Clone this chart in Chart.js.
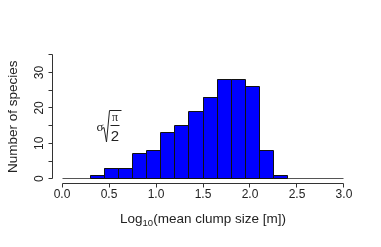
<!DOCTYPE html>
<html><head><meta charset="utf-8">
<script src="https://cdn.jsdelivr.net/npm/chart.js@4"></script>
<style>html,body{margin:0;padding:0;background:#fff}#wrap{width:381px;height:247px}</style>
</head><body><div id="wrap"><canvas id="c" width="381" height="247"></canvas></div>
<script>
const binEdges = [0,0.15,0.3,0.45,0.6,0.75,0.9,1.05,1.2,1.35,1.5,1.65,1.8,1.95,2.1,2.25,2.4,2.55,2.7,2.85,3.0];
const counts   = [0,0,1,3,3,7,8,13,15,19,23,28,28,26,8,1,0,0,0,0];
const xTicks = [0.0,0.5,1.0,1.5,2.0,2.5,3.0];
const xTickLabels = ["0.0","0.5","1.0","1.5","2.0","2.5","3.0"];
const yTicks = [0,5,10,15,20,25,30,35];
const yLabelTicks = [0,10,20,30];
const yTickLabels = ["0","10","20","30"];

const barData = counts.map((c,i)=>({x:(binEdges[i]+binEdges[i+1])/2, y:c}));

const ink = '#222';
const histPlugin = {
  id:'histOutline',
  afterDatasetsDraw(chart){
    const ctx = chart.ctx, xs = chart.scales.x, ys = chart.scales.y;
    const meta = chart.getDatasetMeta(0);
    ctx.save();
    ctx.lineWidth = 1;
    const y0 = Math.floor(ys.getPixelForValue(0))+0.5;
    ctx.beginPath();
    ctx.moveTo(Math.floor(xs.getPixelForValue(binEdges[0]))+0.5, y0);
    ctx.lineTo(Math.floor(xs.getPixelForValue(binEdges[binEdges.length-1]))+0.5, y0);
    ctx.strokeStyle = '#555';
    ctx.stroke();
    ctx.strokeStyle = '#111';
    ctx.beginPath();
    meta.data.forEach((el,i)=>{
      if (!counts[i]) return;
      const l = Math.floor(el.x - el.width/2)+0.5, r = Math.floor(el.x + el.width/2)+0.5;
      const t = Math.floor(el.y)+0.5, b = Math.floor(el.base)+0.5;
      ctx.moveTo(l,b); ctx.lineTo(l,t); ctx.lineTo(r,t); ctx.lineTo(r,b); ctx.lineTo(l,b);
    });
    ctx.stroke();
    ctx.restore();
  }
};
const axisPlugin = {
  id:'rAxes',
  afterDraw(chart){
    const ctx = chart.ctx, xs = chart.scales.x, ys = chart.scales.y, ca = chart.chartArea;
    ctx.save();
    ctx.strokeStyle = '#333'; ctx.fillStyle = ink; ctx.lineWidth = 1;
    const ya = Math.round(ca.bottom)+0.5;
    ctx.beginPath();
    ctx.moveTo(Math.floor(xs.getPixelForValue(xTicks[0]))+0.5, ya);
    ctx.lineTo(Math.floor(xs.getPixelForValue(xTicks[xTicks.length-1]))+0.5, ya);
    xTicks.forEach(v=>{const p=Math.floor(xs.getPixelForValue(v))+0.5; ctx.moveTo(p,ya); ctx.lineTo(p,ya+4);});
    ctx.stroke();
    ctx.font = '12px "Liberation Sans", Arial, sans-serif';
    ctx.textAlign='center'; ctx.textBaseline='alphabetic';
    xTicks.forEach((v,i)=>ctx.fillText(xTickLabels[i], xs.getPixelForValue(v), ya+14));
    const xa = Math.round(ca.left)+0.5;
    ctx.beginPath();
    ctx.moveTo(xa, Math.floor(ys.getPixelForValue(yTicks[0]))+0.5);
    ctx.lineTo(xa, Math.floor(ys.getPixelForValue(yTicks[yTicks.length-1]))+0.5);
    yTicks.forEach(v=>{const p=Math.floor(ys.getPixelForValue(v))+0.5; ctx.moveTo(xa,p); ctx.lineTo(xa-4,p);});
    ctx.stroke();
    yLabelTicks.forEach((v,i)=>{
      ctx.save(); ctx.translate(xa-10, ys.getPixelForValue(v)); ctx.rotate(-Math.PI/2);
      ctx.fillText(yTickLabels[i],0,0); ctx.restore();
    });
    ctx.save(); ctx.font='13.5px "Liberation Sans", Arial, sans-serif';
    ctx.translate(16.5, (ca.top+ca.bottom)/2); ctx.rotate(-Math.PI/2);
    ctx.fillText('Number of species',0,0); ctx.restore();
    const f1='13.5px "Liberation Sans", Arial, sans-serif', f2='9.5px "Liberation Sans", Arial, sans-serif';
    const p1='Log', p2='10', p3='(mean clump size [m])';
    ctx.font=f1; const w1=ctx.measureText(p1).width, w3=ctx.measureText(p3).width;
    ctx.font=f2; const w2=ctx.measureText(p2).width;
    const cx=(xs.getPixelForValue(xTicks[0])+xs.getPixelForValue(xTicks[xTicks.length-1]))/2;
    let sx=cx-(w1+w2+w3)/2, by=223;
    ctx.textAlign='left';
    ctx.font=f1; ctx.fillText(p1,sx,by);
    ctx.font=f2; ctx.fillText(p2,sx+w1,by+3);
    ctx.font=f1; ctx.fillText(p3,sx+w1+w2,by);
    ctx.font='13px "Liberation Serif", serif'; ctx.textAlign='left';
    ctx.fillText('σ',96.5,131);
    ctx.strokeStyle=ink; ctx.lineWidth=1;
    ctx.beginPath();
    ctx.moveTo(102.5,128.5); ctx.lineTo(104,127.5); ctx.lineTo(106.5,142); ctx.lineTo(109.5,110.5); ctx.lineTo(121.5,110.5);
    ctx.moveTo(110.5,125.5); ctx.lineTo(119.5,125.5);
    ctx.stroke();
    ctx.textAlign='center';
    ctx.font='12px "Liberation Serif", serif'; ctx.fillText('π',115,121);
    ctx.font='15px "Liberation Sans", Arial, sans-serif'; ctx.fillText('2',115,141);
    ctx.restore();
  }
};

new Chart(document.getElementById('c'), {
  type:'bar',
  data:{datasets:[
    {data:barData, backgroundColor:'#0000FF', borderWidth:0, inflateAmount:0,
     barPercentage:1, categoryPercentage:1}
  ]},
  options:{
    responsive:false, animation:false, devicePixelRatio:1,
    layout:{padding:{left:51.7, right:26.7, top:50.5, bottom:64}},
    plugins:{legend:{display:false}, tooltip:{enabled:false}},
    scales:{
      x:{type:'linear', min:-0.11, max:3.11, offset:false, display:false},
      y:{type:'linear', min:-1.2, max:36.2, display:false}
    }
  },
  plugins:[histPlugin, axisPlugin]
});
</script></body></html>
